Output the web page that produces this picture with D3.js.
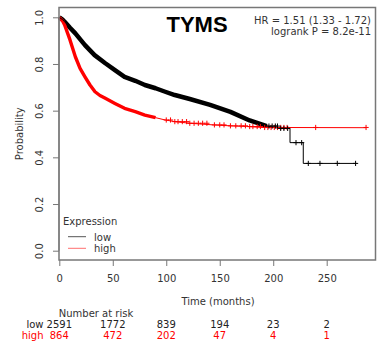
<!DOCTYPE html>
<html><head><meta charset="utf-8">
<script src="https://cdn.jsdelivr.net/npm/d3@7"></script>
<style>
html,body{margin:0;padding:0;background:#fff;}
svg{display:block;font-family:"DejaVu Sans",sans-serif;}
</style></head>
<body>
<svg id="chart" width="378" height="349"></svg>
<script>
// ---- data ----
const lowTimes = [0,3,5,10,15,24,33,43,52,61,71,80,90,99,108,122,141,160,178,194,206,215.7,215.7,228.1,228.1,278];
const lowSurv  = [1.0,0.99,0.981,0.955,0.931,0.881,0.838,0.803,0.774,0.745,0.728,0.710,0.696,0.681,0.667,0.650,0.625,0.595,0.558,0.534,0.524,0.524,0.463,0.463,0.374,0.374];
const highTimes = [0,3,5,10,15,19.4,24,28.7,33.4,38,43,52,61,71,80,90,99,108,122,144,160,175,190,287];
const highSurv  = [1.0,0.985,0.967,0.903,0.831,0.781,0.745,0.710,0.681,0.665,0.653,0.631,0.610,0.596,0.581,0.570,0.560,0.553,0.546,0.539,0.535,0.532,0.528,0.527];
const lowCensor = [196,199,202,204,207,210,213.5,221.3,226.6,232.8,243.7,259.9,277];
const highCensor = [100,104,108,111,115,119,122,126,130,134,138,145,150,154,160,165,170,174,178,181,185,188,192,195,198,201,204,207,210,213,239.7,286.8];
const xTicks = [0,50,100,150,200,250];
const yTicks = [0,0.2,0.4,0.6,0.8,1.0];
const riskTimes = [0,50,100,150,200,250];
const lowRisk = [2591,1772,839,194,23,2];
const highRisk = [864,472,202,47,4,1];
const groups = ["low","high"];
const title = "TYMS";
const hrText = "HR = 1.51 (1.33 - 1.72)";
const pText = "logrank P = 8.2e-11";

// ---- layout ----
const svg = d3.select("#chart");
const x = d3.scaleLinear().domain([0,250]).range([59.3,326.7]);
const y = d3.scaleLinear().domain([0,1]).range([250.7,17.3]);
const boxL = 59, boxT = 7.5, boxR = 375.5, boxB = 260;
const gray = "#777";
const red = "#ff0000";

function survPts(ts, ss){ return ts.map((t,i)=>[t, ss[i]]); }
const lowPts = survPts(lowTimes, lowSurv);
const highPts = survPts(highTimes, highSurv);
const line = d3.line().x(d=>x(d[0])).y(d=>y(d[1]));
function survAt(pts, t){
  let v = pts[0][1];
  for(const p of pts){ if(p[0] <= t) v = p[1]; }
  return v;
}

// curves: dense (heavily censored) parts drawn as thick bands
const lowDenseUntil = 200, highDenseUntil = 98;
svg.append("path").attr("d", line(lowPts.filter(p=>p[0]<=lowDenseUntil)))
  .attr("fill","none").attr("stroke","#000").attr("stroke-width",4.5).attr("stroke-linejoin","round");
svg.append("path").attr("d", line(highPts.filter(p=>p[0]<=highDenseUntil)))
  .attr("fill","none").attr("stroke",red).attr("stroke-width",3.4).attr("stroke-linejoin","round");
svg.append("path").attr("d", line(highPts))
  .attr("fill","none").attr("stroke",red).attr("stroke-width",1);
svg.append("path").attr("d", line(lowPts))
  .attr("fill","none").attr("stroke","#000").attr("stroke-width",1);

// censor marks
function marks(times, pts, color){
  const g = svg.append("g").attr("stroke",color).attr("stroke-width",1);
  times.forEach(t=>{
    const cx = x(t), cy = y(survAt(pts,t));
    g.append("line").attr("x1",cx-2.6).attr("x2",cx+2.6).attr("y1",cy).attr("y2",cy);
    g.append("line").attr("x1",cx).attr("x2",cx).attr("y1",cy-2.6).attr("y2",cy+2.6);
  });
}
marks(highCensor, highPts, red);
marks(lowCensor, lowPts, "#000");

// box
svg.append("rect").attr("x",boxL).attr("y",boxT).attr("width",boxR-boxL).attr("height",boxB-boxT)
  .attr("fill","none").attr("stroke",gray).attr("stroke-width",1.5);

// axes
const xa = svg.append("g").attr("transform",`translate(0,${boxB})`)
  .call(d3.axisBottom(x).tickValues(xTicks).tickSize(6).tickPadding(8.5).tickFormat(d3.format("d")));
xa.select(".domain").remove();
xa.selectAll("line").attr("stroke",gray);
xa.selectAll("text").attr("fill","#333").style("font-size","10px").style("font-family","DejaVu Sans");

const ya = svg.append("g").attr("transform",`translate(${boxL},0)`)
  .call(d3.axisLeft(y).tickValues(yTicks).tickSize(6).tickFormat(d3.format(".1f")));
ya.select(".domain").attr("stroke",gray).attr("d",`M0,${y(0)}V${y(1)}`);
ya.selectAll("line").attr("stroke",gray);
ya.selectAll("text").attr("x",null).attr("dy",null).attr("text-anchor","middle")
  .attr("transform","translate(-16,0) rotate(-90)")
  .attr("fill","#333").style("font-size","10px").style("font-family","DejaVu Sans");

// axis titles
svg.append("text").attr("transform",`translate(22.5,${(boxT+boxB)/2}) rotate(-90)`)
  .attr("text-anchor","middle").attr("font-size",10).attr("fill","#333").text("Probability");
svg.append("text").attr("x",218).attr("y",305).attr("text-anchor","middle")
  .attr("font-size",10).attr("fill","#333").text("Time (months)");

// title + stats
svg.append("text").attr("x",197).attr("y",31.5).attr("text-anchor","middle")
  .attr("font-family","Liberation Sans, Arial, sans-serif").attr("font-weight","bold")
  .attr("font-size",22).attr("fill","#000").text(title);
svg.append("text").attr("x",371).attr("y",24).attr("text-anchor","end")
  .attr("font-size",10).attr("fill","#333").text(hrText);
svg.append("text").attr("x",371).attr("y",35).attr("text-anchor","end")
  .attr("font-size",10).attr("fill","#333").text(pText);

// legend
const leg = svg.append("g");
leg.append("text").attr("x",63).attr("y",225).attr("font-size",10).attr("fill","#333").text("Expression");
const legColors = ["#555", "#ff7070"];
const legText = ["#333", "#333"];
groups.forEach((gname,i)=>{
  const ly = 236.7 + i*11.6;
  leg.append("line").attr("x1",68).attr("x2",86).attr("y1",ly).attr("y2",ly)
    .attr("stroke",legColors[i]).attr("stroke-width",1);
  leg.append("text").attr("x",94).attr("y",ly+3.8).attr("font-size",10).attr("fill",legText[i]).text(gname);
});

// number at risk
svg.append("text").attr("x",96).attr("y",316.7).attr("text-anchor","middle")
  .attr("font-size",10).attr("fill","#333").text("Number at risk");
const riskRows = [lowRisk, highRisk];
const riskColors = ["#222", red];
riskRows.forEach((row,i)=>{
  const by = 327.7 + i*11.5;
  svg.append("text").attr("x",43.5).attr("y",by).attr("text-anchor","end")
    .attr("font-size",10).attr("fill",riskColors[i]).text(groups[i]);
  row.forEach((v,j)=>{
    svg.append("text").attr("x",x(riskTimes[j])).attr("y",by).attr("text-anchor","middle")
      .attr("font-size",10).attr("fill",riskColors[i]).text(v);
  });
});
</script>
</body></html>
